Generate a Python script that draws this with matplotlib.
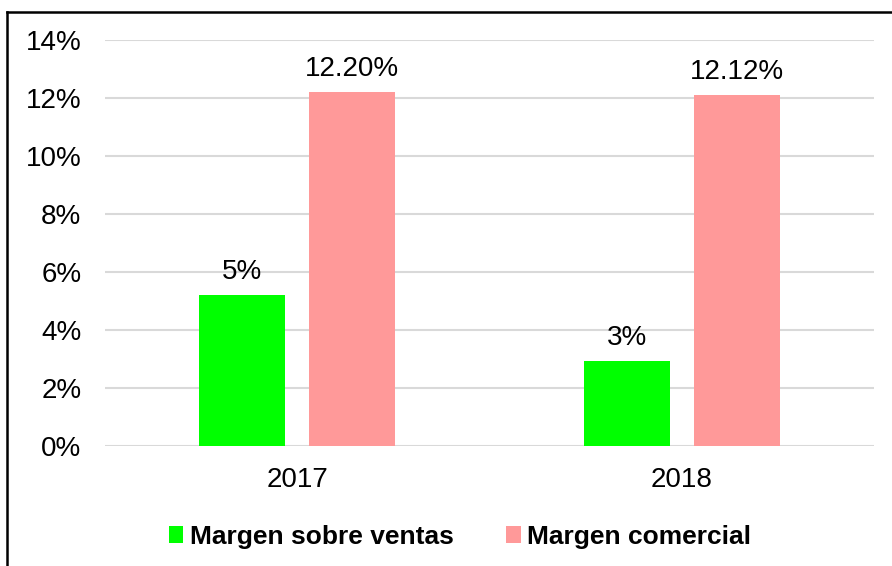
import numpy as np
import matplotlib
matplotlib.use("Agg")
import matplotlib.pyplot as plt
from matplotlib.lines import Line2D
from matplotlib.ticker import PercentFormatter

plt.rcParams['font.family'] = ['Liberation Sans', 'DejaVu Sans']

years = ['2017', '2018']
series_names = ['Margen sobre ventas', 'Margen comercial']
margen_ventas = [5.22, 2.92]
margen_comercial = [12.20, 12.12]
labels_ventas = ['5%', '3%']
labels_comercial = ['12.20%', '12.12%']
colors = ['#00ff00', '#ff9999']

fig = plt.figure(figsize=(8.92, 5.66), dpi=100)
ax = fig.add_axes([105 / 892, 1 - 446 / 566, 769 / 892, 406 / 566])

x = np.arange(len(years))
w = 0.224
off = 0.143
b1 = ax.bar(x - off, margen_ventas, w, color=colors[0], label=series_names[0], zorder=3)
b2 = ax.bar(x + off, margen_comercial, w, color=colors[1], label=series_names[1], zorder=3)

for bars, labs in [(b1, labels_ventas), (b2, labels_comercial)]:
    for rect, lab in zip(bars, labs):
        ax.annotate(lab, (rect.get_x() + rect.get_width() / 2, rect.get_height()),
                    xytext=(0, 16.5), textcoords='offset points',
                    ha='center', va='center', fontsize=20)

ax.set_xlim(-0.5, 1.5)
ax.set_ylim(0, 14)
ax.set_yticks(np.arange(0, 15, 2))
ax.yaxis.set_major_formatter(PercentFormatter(decimals=0))
ax.set_xticks(x)
ax.set_xticklabels(years)
ax.tick_params(axis='both', length=0, labelsize=20)
ax.tick_params(axis='y', pad=17)
ax.tick_params(axis='x', pad=15)
ax.grid(axis='y', color='#d9d9d9', linewidth=1.5, zorder=0)
for s in ax.spines.values():
    s.set_visible(False)

leg = fig.legend(handles=[b1, b2], labels=series_names, loc='center',
                 bbox_to_anchor=(460 / 892, 1 - 537 / 566), ncol=2, frameon=False,
                 prop={'weight': 'bold', 'size': 19}, handlelength=0.55, handleheight=0.6,
                 handletextpad=0.25, columnspacing=2.0)

# outer chart border (left and top edges visible)
fig.add_artist(Line2D([7 / 892, 7 / 892], [0, 1 - 12 / 566], transform=fig.transFigure,
                      color='black', linewidth=1.8))
fig.add_artist(Line2D([7 / 892, 1], [1 - 12 / 566, 1 - 12 / 566], transform=fig.transFigure,
                      color='black', linewidth=1.8))

fig.savefig('out.png', dpi=100)
